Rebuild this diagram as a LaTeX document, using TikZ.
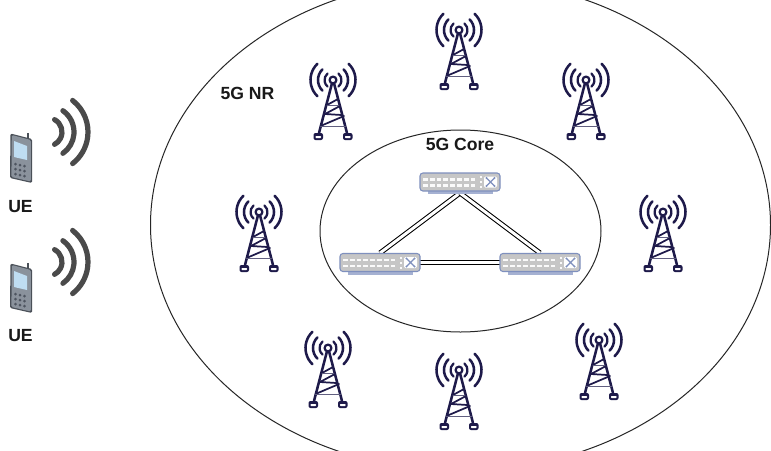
\documentclass[tikz,border=0pt]{standalone}
\usepackage{fontspec}
\setmainfont{Liberation Sans}
\definecolor{navyT}{HTML}{1E1A4A}
\definecolor{swG}{HTML}{C6C6C6}
\definecolor{swB}{HTML}{7F90BE}
\definecolor{phD}{HTML}{4A5058}
\definecolor{phM}{HTML}{8A929C}
\definecolor{phS}{HTML}{BFDDF2}
\definecolor{phK}{HTML}{4E5560}
\definecolor{waveG}{HTML}{4A4A4A}
\begin{document}
\begin{tikzpicture}[x=0.75pt,y=-0.75pt,
  lbl/.style={font=\bfseries\fontsize{13.2}{15}\selectfont,inner sep=0pt,text=black!90},
  ring/.style={draw=black!85,line width=0.75pt},
  link/.style={draw=black,double=white,double distance=2.2pt,line width=0.8pt},
  swnode/.style={minimum width=60pt,minimum height=13.5pt,inner sep=0pt,draw=none},
  pics/tower/.style={code={
    \begin{scope}[draw=navyT,line cap=round,line join=round]
    \draw[line width=1.7pt] (0,0) circle[radius=3.4];
    \draw[line width=1.7pt] (0,0) ++(-50:8.5) arc[start angle=-50,end angle=50,radius=8.5];
    \draw[line width=1.7pt] (0,0) ++(230:8.5) arc[start angle=230,end angle=130,radius=8.5];
    \draw[line width=1.9pt] (0,0) ++(-45:15) arc[start angle=-45,end angle=45,radius=15];
    \draw[line width=1.9pt] (0,0) ++(225:15) arc[start angle=225,end angle=135,radius=15];
    \draw[line width=1.9pt] (0,0) ++(-46:22.5) arc[start angle=-46,end angle=46,radius=22.5];
    \draw[line width=1.9pt] (0,0) ++(226:22.5) arc[start angle=226,end angle=134,radius=22.5];
    \draw[line width=1.9pt] (-1.2,4) -- (-14,53) (1.2,4) -- (14,53);
    \draw[line width=1.3pt] (-6,25) -- (5,19) (-8,34) -- (7,26) (-8,34) -- (8.5,35) (-12.5,46) -- (11,36);
    \draw[line width=0.7pt,navyT!70] (-6,25) -- (6,25) (-12.5,46) -- (12.5,46);
    \fill[navyT,rounded corners=1.5pt] (-19.5,53) rectangle (-10,60);
    \fill[navyT,rounded corners=1.5pt] (10,53) rectangle (19.5,60);
    \fill[white,rounded corners=0.5pt] (-17.5,56) rectangle (-12,58);
    \fill[white,rounded corners=0.5pt] (12,56) rectangle (17.5,58);
    \end{scope}
  }},
  pics/switchbox/.style={code={
    \fill[swB!70] (-32,9) rectangle (33,12);
    \draw[swB,fill=swG,line width=0.8pt,rounded corners=2.2pt] (-40,-9) rectangle (40,9);
    \foreach \i in {0,...,7}{
      \fill[white!92!swG] (-37+\i*6.8,-4) rectangle ++(4.8,2.6);
      \fill[white!92!swG] (-37+\i*6.8,2) rectangle ++(4.8,2.6);
    }
    \foreach \j in {-6,-1,4} \fill[white!92!swG] (19.5,\j) rectangle ++(2.4,2.4);
    \fill[white,rounded corners=1pt] (24,-5.5) rectangle (37,5.5);
    \draw[swB,line width=0.9pt] (27,-3.5) -- (34,3.5) (27,3.5) -- (34,-3.5);
    \fill[swB] (26.5,-4) circle[radius=1.2] (34.5,-4) circle[radius=1.2] (26.5,4) circle[radius=1.2] (34.5,4) circle[radius=1.2];
  }},
  pics/phone/.style={code={
    \draw[phD,line width=1pt] (18,0) -- (18,6);
    \fill[phD,rounded corners=1pt] (0.5,0.5) -- (22,6) -- (22,50) -- (0,45) -- cycle;
    \fill[phM,rounded corners=1pt] (1.8,2) -- (20.8,7) -- (20.8,48.5) -- (1.4,44) -- cycle;
    \fill[phS] (4,8) -- (17,13) -- (17,27) -- (4,24) -- cycle;
    \foreach \r in {0,1,2} \foreach \c in {0,1,2}
      \fill[phK] (5.5+\c*4.5,31+\r*5+\c*1) circle[radius=1.5];
  }},
  pics/wavearcs/.style={code={
    \begin{scope}[draw=waveG,line width=3.9pt,line cap=round]
    \draw (0,0) ++(-62:14) arc[start angle=-62,end angle=62,radius=14];
    \draw (0,0) ++(-55:26) arc[start angle=-55,end angle=55,radius=26];
    \draw (0,0) ++(-52:40) arc[start angle=-52,end angle=52,radius=40];
    \end{scope}
  }}
]
\useasboundingbox (0,0) rectangle (771,450);
\clip (0,0) rectangle (771,450);
\fill[white] (0,0) rectangle (771,450);

\draw[ring] (460.5,225) ellipse[x radius=310,y radius=246];
\draw[ring] (460.5,231) ellipse[x radius=140.5,y radius=101];

\foreach \tx/\ty in {459/30,333/80,586/80,259/212,663/212,328/348,599/340,459/370}
  \pic at (\tx,\ty) {tower};

\node[swnode] (swT) at (460,182) {};
\node[swnode] (swL) at (380,262.5) {};
\node[swnode] (swR) at (540,262.5) {};
\coordinate (swTb) at (460,193);
\coordinate (swLt) at (380,253);
\coordinate (swRt) at (540,253);
\draw[link] (swTb) -- (swLt);
\draw[link] (swTb) -- (swRt);
\draw[link] (swL.east) -- (swR.west);
\pic at (swT) {switchbox};
\pic at (swL) {switchbox};
\pic at (swR) {switchbox};

\pic at (10,133) {phone};
\pic at (10,263) {phone};
\pic at (48,132) {wavearcs};
\pic at (48,262) {wavearcs};

\node[lbl] (ue1) at (20.5,207) {UE};
\node[lbl] (ue2) at (20.5,336) {UE};
\node[lbl] (nr) at (247.5,93) {5G NR};
\node[lbl] (core) at (460,144) {5G Core};
\end{tikzpicture}
\end{document}
